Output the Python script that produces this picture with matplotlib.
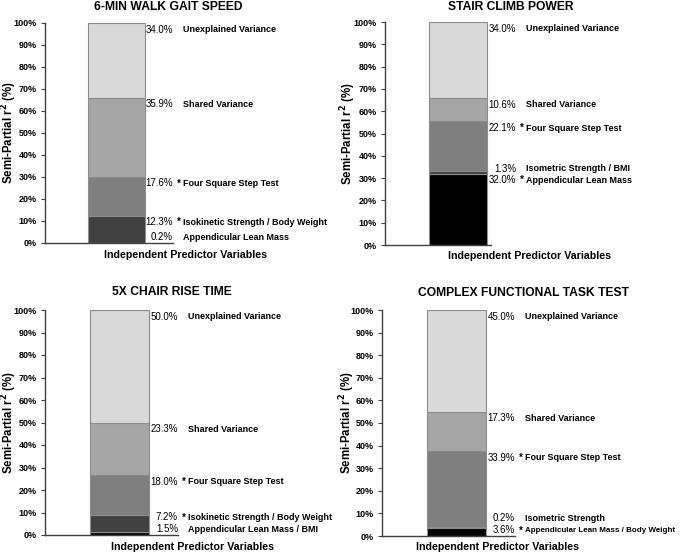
import matplotlib.pyplot as plt
import matplotlib.transforms as mtransforms

plt.rcParams['font.family'] = ['Liberation Sans', 'DejaVu Sans']

# Semi-partial r^2 components (bottom to top of each stacked bar)
walk_names = ['Appendicular Lean Mass', 'Isokinetic Strength / Body Weight',
              'Four Square Step Test', 'Shared Variance', 'Unexplained Variance']
walk_values = [0.2, 12.3, 17.6, 35.9, 34.0]
walk_sig = [False, True, True, False, False]

stair_names = ['Appendicular Lean Mass', 'Isometric Strength / BMI',
               'Four Square Step Test', 'Shared Variance', 'Unexplained Variance']
stair_values = [32.0, 1.3, 22.1, 10.6, 34.0]
stair_sig = [True, False, True, False, False]

chair_names = ['Appendicular Lean Mass / BMI', 'Isokinetic Strength / Body Weight',
               'Four Square Step Test', 'Shared Variance', 'Unexplained Variance']
chair_values = [1.5, 7.2, 18.0, 23.3, 50.0]
chair_sig = [False, True, True, False, False]

task_names = ['Appendicular Lean Mass / Body Weight', 'Isometric Strength',
              'Four Square Step Test', 'Shared Variance', 'Unexplained Variance']
task_values = [3.6, 0.2, 33.9, 17.3, 45.0]
task_sig = [True, False, True, False, False]

titles = ['6-MIN WALK GAIT SPEED', 'STAIR CLIMB POWER',
          '5X CHAIR RISE TIME', 'COMPLEX FUNCTIONAL TASK TEST']
panels = [(walk_names, walk_values, walk_sig),
          (stair_names, stair_values, stair_sig),
          (chair_names, chair_values, chair_sig),
          (task_names, task_values, task_sig)]

segment_colors = ['#000000', '#404040', '#7f7f7f', '#a6a6a6', '#d9d9d9']

W, H = 685, 554
# axes boxes in pixels: left, top, right, bottom
boxes = [(45, 23, 173, 243), (385, 22, 516, 245),
         (45, 310, 178, 535), (382, 310, 515, 536)]
title_pos = [(168, 7), (511, 7), (172, 292), (524, 293)]
xlabel_pos = [(186, 255), (530, 256), (192, 547), (497, 547)]
ylabel_right = [19, 358, 19, 357]

fig = plt.figure(figsize=(W / 100, H / 100), dpi=100)
renderer = fig.canvas.get_renderer()
name_texts = []

for i, (names, values, sig) in enumerate(panels):
    l, t, r, b = boxes[i]
    ax = fig.add_axes([l / W, 1 - b / H, (r - l) / W, (b - t) / H])

    # bar spans roughly 34%..78% of the axes width
    x0, x1 = 0.335, 0.782
    span = 1 / (x1 - x0)
    ax.set_xlim(-0.5 - x0 * span, 0.5 + (1 - x1) * span)
    ax.set_ylim(0, 100)

    bottom = 0
    tops = []
    for v, c in zip(values, segment_colors):
        ax.bar(0, v, width=1, bottom=bottom, color=c, edgecolor='#8c8c8c',
               linewidth=0.8, zorder=2)
        bottom += v
        tops.append(bottom)

    # label positions: just under each segment top, pushed apart
    label_y = []
    for k, tp in enumerate(tops):
        y = tp - 3
        if k == 0:
            y = max(y, 2.5)
        else:
            y = max(y, label_y[-1] + 5.3)
        label_y.append(y)

    trans = mtransforms.blended_transform_factory(ax.transAxes, ax.transData)
    for name, v, s, y in zip(names, values, sig, label_y):
        ax.text(1.0, y, f'{v:.1f}%', transform=trans, ha='right', va='center',
                fontsize=7, clip_on=False)
        if s:
            ax.annotate('*', (1.0, y), xycoords=trans, xytext=(2.5, 0),
                        textcoords='offset points', ha='left', va='center',
                        fontsize=7, fontweight='bold')
        txt = ax.annotate(name, (1.0, y), xycoords=trans, xytext=(7.5, 0),
                          textcoords='offset points', ha='left', va='center',
                          fontsize=6.5, fontweight='bold')
        name_texts.append(txt)

    ax.set_yticks(range(0, 101, 10))
    ax.set_yticklabels([f'{v}%' for v in range(0, 101, 10)],
                       fontsize=6.5, fontweight='bold')
    ax.set_xticks([])
    ax.tick_params(axis='y', length=3, width=0.8, color='#404040', pad=3)
    for sp in ['top', 'right']:
        ax.spines[sp].set_visible(False)
    for sp in ['left', 'bottom']:
        ax.spines[sp].set_color('#404040')
        ax.spines[sp].set_linewidth(1.0)
    if i == 1:
        ax.spines['bottom'].set_bounds(ax.get_xlim()[0], 0.56)
    ax.set_ylabel('Semi-Partial r$^\\mathbf{2}$ (%)', fontsize=8.3,
                  fontweight='bold')
    ax.yaxis.set_label_coords((ylabel_right[i] - l) / (r - l), 0.5)

    tx, ty = title_pos[i]
    fig.text(tx / W, 1 - ty / H, titles[i], ha='center', va='center',
             fontsize=8.7, fontweight='bold')
    lx, ly = xlabel_pos[i]
    fig.text(lx / W, 1 - ly / H, 'Independent Predictor Variables',
             ha='center', va='center', fontsize=7.7, fontweight='bold')

# shrink any label running past the right edge of the figure
for txt in name_texts:
    bb = txt.get_window_extent(renderer)
    if bb.x1 > W - 10:
        scale = (W - 10 - bb.x0) / bb.width
        txt.set_fontsize(txt.get_fontsize() * scale)

fig.savefig('out.png', dpi=100)
